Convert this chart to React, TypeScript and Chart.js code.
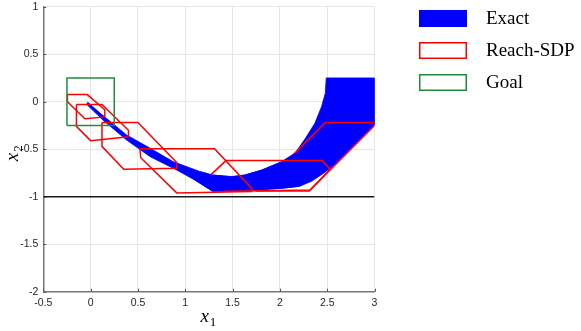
import React, { useEffect, useRef } from 'react';
import { Chart, registerables } from 'chart.js';

Chart.register(...registerables);

// ---- tick labels -------------------------------------------------------
const X_TICKS = [-0.5, 0, 0.5, 1, 1.5, 2, 2.5, 3];
const Y_TICKS = [-2, -1.5, -1, -0.5, 0, 0.5, 1];
const X_RANGE = [-0.5, 3];
const Y_RANGE = [-2, 1];
const X_TITLE = ['x', '1'];
const Y_TITLE = ['x', '2'];

// ---- exact reachable set (blue), drawn in pieces as in the original plot
const EXACT_BAND: [number, number][] = [
  [-0.03, -0.005], [0.10, -0.12], [0.38, -0.35], [0.63, -0.49], [0.87, -0.63],
  [1.16, -0.737], [1.28, -0.772], [1.49, -0.789], [1.63, -0.772], [1.81, -0.719],
  [2.02, -0.632], [2.16, -0.543], [2.27, -0.385], [2.37, -0.227], [2.44, -0.053],
  [2.48, 0.088], [2.49, 0.25], [3.0, 0.25], [3.0, -0.245], [2.56, -0.68],
  [2.48, -0.74], [2.34, -0.835], [2.21, -0.89], [2.03, -0.91], [1.75, -0.93],
  [1.47, -0.94], [1.28, -0.935], [1.10, -0.824], [0.91, -0.719], [0.63, -0.579],
  [0.38, -0.403], [0.13, -0.193], [-0.04, -0.03],
];
const EXACT_MID: [number, number][] = [
  [1.16, -0.737], [1.28, -0.772], [1.49, -0.789], [1.63, -0.772], [1.81, -0.719],
  [2.02, -0.632], [2.16, -0.543], [2.21, -0.89], [2.03, -0.91], [1.75, -0.93],
  [1.47, -0.94], [1.28, -0.935], [1.10, -0.824],
];
const EXACT_TAIL: [number, number][] = [
  [1.20, -0.749], [1.28, -0.772], [1.40, -0.785], [1.40, -0.94], [1.28, -0.935], [1.20, -0.886],
];

// ---- Reach-SDP over-approximations (red), step 1 = right-most ----------
const SDP_STEP_1: [number, number][] = [[2.48, -0.22], [3.03, -0.22], [2.31, -0.94], [1.76, -0.94]];
const SDP_STEP_2: [number, number][] = [[1.27, -0.77], [1.43, -0.62], [2.45, -0.62], [2.53, -0.71], [2.32, -0.93], [1.29, -0.945]];
const SDP_STEP_3: [number, number][] = [[0.52, -0.495], [1.31, -0.495], [1.70, -0.91], [1.70, -0.945], [0.91, -0.96], [0.53, -0.59]];
const SDP_STEP_4: [number, number][] = [[0.12, -0.22], [0.50, -0.22], [0.91, -0.64], [0.91, -0.70], [0.35, -0.71], [0.12, -0.47]];
const SDP_STEP_5: [number, number][] = [[-0.15, -0.03], [0.12, -0.03], [0.40, -0.30], [0.40, -0.37], [0.0, -0.41], [-0.15, -0.26]];
const SDP_STEP_6: [number, number][] = [[-0.245, 0.075], [-0.035, 0.075], [0.15, -0.085], [0.15, -0.16], [-0.06, -0.18], [-0.245, 0.0]];

// ---- goal set (green) and state constraint line ------------------------
const GOAL: [number, number][] = [[-0.25, -0.25], [0.25, -0.25], [0.25, 0.25], [-0.25, 0.25]];
const CONSTRAINT_Y = -1;

const LEGEND_LABELS = ['Exact', 'Reach-SDP', 'Goal'];

const BLUE = '#0000ff';
const RED = '#ff0000';
const GREEN = '#1f8b3b';
const AXIS = '#262626';
const SERIF = "'Liberation Serif', 'DejaVu Serif', serif";

const closed = (pts: [number, number][]) => [...pts, pts[0]].map(([x, y]) => ({ x, y }));

const exactDs = (pts: [number, number][]) => ({
  label: 'Exact',
  data: closed(pts),
  showLine: true,
  fill: 'shape',
  backgroundColor: BLUE,
  borderColor: BLUE,
  borderWidth: 0.8,
  pointRadius: 0,
  tension: 0,
});
const outlineDs = (label: string, pts: [number, number][], color: string) => ({
  label,
  data: closed(pts),
  showLine: true,
  fill: false,
  borderColor: color,
  backgroundColor: color,
  borderWidth: 1.5,
  pointRadius: 0,
  tension: 0,
});

const tickMarksPlugin = {
  id: 'matlabTicks',
  afterDatasetsDraw(chart: any) {
    const { ctx, chartArea, scales } = chart;
    ctx.save();
    ctx.strokeStyle = '#555';
    ctx.lineWidth = 1;
    ctx.beginPath();
    X_TICKS.forEach((v) => {
      const px = Math.round(scales.x.getPixelForValue(v)) + 0.5;
      ctx.moveTo(px, chartArea.bottom);
      ctx.lineTo(px, chartArea.bottom - 3);
    });
    Y_TICKS.forEach((v) => {
      const py = Math.round(scales.y.getPixelForValue(v)) + 0.5;
      ctx.moveTo(chartArea.left, py);
      ctx.lineTo(chartArea.left + 3, py);
    });
    ctx.stroke();
    ctx.restore();
  },
};

// math-style axis titles: italic x with upright subscript
const drawSubLabel = (ctx: any, parts: string[], cx: number, baseY: number) => {
  const main = `italic 19px ${SERIF}`;
  const sub = `13px ${SERIF}`;
  ctx.font = main;
  const w1 = ctx.measureText(parts[0]).width;
  ctx.font = sub;
  const w2 = ctx.measureText(parts[1]).width;
  const x0 = cx - (w1 + w2 + 1) / 2;
  ctx.fillStyle = '#000';
  ctx.textBaseline = 'alphabetic';
  ctx.textAlign = 'left';
  ctx.font = main;
  ctx.fillText(parts[0], x0, baseY);
  ctx.font = sub;
  ctx.fillText(parts[1], x0 + w1 + 1, baseY + 4);
};

const axisTitlePlugin = {
  id: 'axisTitles',
  afterDraw(chart: any) {
    const { ctx, chartArea } = chart;
    ctx.save();
    drawSubLabel(ctx, X_TITLE, (chartArea.left + chartArea.right) / 2 - 0.5, chartArea.bottom + 30.5);
    ctx.translate(chartArea.left - 25.5, (chartArea.top + chartArea.bottom) / 2 + 4);
    ctx.rotate(-Math.PI / 2);
    drawSubLabel(ctx, Y_TITLE, 0, 0);
    ctx.restore();
  },
};

const legendPlugin = {
  id: 'sideLegend',
  afterDraw(chart: any) {
    const { ctx, chartArea } = chart;
    const boxX = chartArea.right + 44.5;
    const boxW = 48;
    const boxH = 17;
    const styles = [
      { fill: BLUE, stroke: null },
      { fill: null, stroke: RED },
      { fill: null, stroke: GREEN },
    ];
    ctx.save();
    LEGEND_LABELS.forEach((label, i) => {
      const top = chartArea.top + 3.3 + i * 32;
      const st = styles[i];
      if (st.fill) {
        ctx.fillStyle = st.fill;
        ctx.fillRect(boxX, top, boxW, boxH);
      }
      if (st.stroke) {
        ctx.strokeStyle = st.stroke;
        ctx.lineWidth = 1.5;
        ctx.strokeRect(boxX + 0.75, top + 0.75, boxW - 1.5, boxH - 1.5);
      }
      ctx.fillStyle = '#000';
      ctx.font = `19px ${SERIF}`;
      ctx.textBaseline = 'middle';
      ctx.textAlign = 'left';
      ctx.fillText(label, boxX + 67, top + boxH / 2 + 0.5);
    });
    ctx.restore();
  },
};

export default function App() {
  const ref = useRef<HTMLCanvasElement>(null);
  useEffect(() => {
    if (!ref.current) return;
    const datasets: any[] = [
      outlineDs('Goal', GOAL, GREEN),
      outlineDs('Reach-SDP', SDP_STEP_6, RED),
      outlineDs('Reach-SDP', SDP_STEP_5, RED),
      outlineDs('Reach-SDP', SDP_STEP_4, RED),
      outlineDs('Reach-SDP', SDP_STEP_3, RED),
      exactDs(EXACT_TAIL),
      outlineDs('Reach-SDP', SDP_STEP_2, RED),
      exactDs(EXACT_MID),
      outlineDs('Reach-SDP', SDP_STEP_1, RED),
      exactDs(EXACT_BAND),
      {
        label: 'constraint',
        data: X_RANGE.map((x) => ({ x, y: CONSTRAINT_Y })),
        showLine: true,
        fill: false,
        borderColor: '#1a1a1a',
        borderWidth: 1.5,
        pointRadius: 0,
      },
    ];
    const tickFont = { family: "'Liberation Sans', Arial, Helvetica, sans-serif", size: 10.5 };
    const fmt = (v: any) => String(Number(v));
    const chart = new Chart(ref.current, {
      type: 'scatter',
      data: { datasets },
      options: {
        animation: false,
        responsive: true,
        maintainAspectRatio: false,
        events: [],
        layout: { padding: { top: 6.7, right: 206.5, left: 0, bottom: 0 } },
        plugins: { legend: { display: false }, tooltip: { enabled: false } },
        scales: {
          x: {
            type: 'linear',
            min: X_RANGE[0],
            max: X_RANGE[1],
            afterBuildTicks: (s: any) => { s.ticks = X_TICKS.map((value) => ({ value })); },
            afterFit: (s: any) => { s.height = 39.3; s.paddingLeft = 0; s.paddingRight = 0; },
            ticks: { font: tickFont, color: AXIS, padding: 5, maxRotation: 0, callback: fmt },
            grid: { color: '#e6e6e6', lineWidth: 1, drawTicks: false },
            border: { display: true, color: '#777', width: 1.5 },
            title: { display: false },
          },
          y: {
            type: 'linear',
            min: Y_RANGE[0],
            max: Y_RANGE[1],
            afterBuildTicks: (s: any) => { s.ticks = Y_TICKS.map((value) => ({ value })); },
            afterFit: (s: any) => { s.width = 43.3; s.paddingTop = 0; s.paddingBottom = 0; },
            ticks: { font: tickFont, color: AXIS, padding: 5, callback: fmt },
            grid: { color: '#e6e6e6', lineWidth: 1, drawTicks: false },
            border: { display: true, color: '#777', width: 1.5 },
            title: { display: false },
          },
        },
      },
      plugins: [tickMarksPlugin, axisTitlePlugin, legendPlugin],
    } as any);
    return () => chart.destroy();
  }, []);
  return (
    <div style={{ position: 'fixed', left: 0, top: 0, width: 581, height: 331, background: '#fff' }}>
      <canvas ref={ref} />
    </div>
  );
}
